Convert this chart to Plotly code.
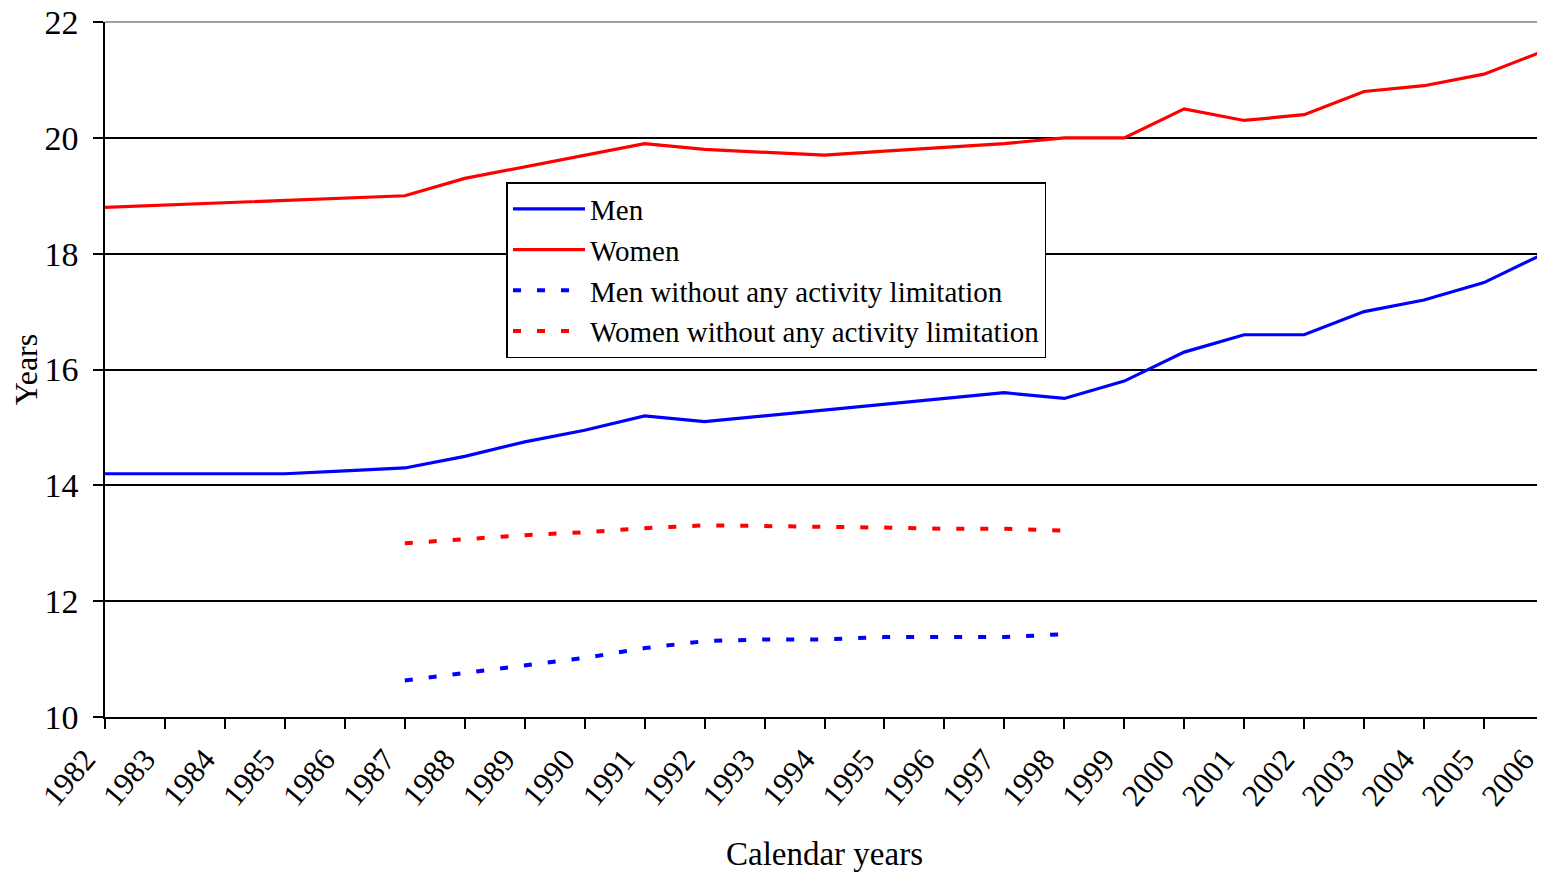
import plotly.graph_objects as go

years = list(range(1982, 2007))

men = [14.2, 14.2, 14.2, 14.2, 14.25, 14.3, 14.5, 14.75, 14.95, 15.2, 15.1, 15.2, 15.3,
       15.4, 15.5, 15.6, 15.5, 15.8, 16.3, 16.6, 16.6, 17.0, 17.2, 17.5, 18.0]
women = [18.8, 18.84, 18.88, 18.92, 18.96, 19.0, 19.3, 19.5, 19.7, 19.9, 19.8, 19.75, 19.7,
         19.77, 19.83, 19.9, 20.0, 20.0, 20.5, 20.3, 20.4, 20.8, 20.9, 21.1, 21.5]
men_no_limit = [None] * 5 + [10.63, 10.76, 10.89, 11.02, 11.19, 11.31, 11.34, 11.34,
                             11.38, 11.38, 11.38, 11.43] + [None] * 8
women_no_limit = [None] * 5 + [13.0, 13.07, 13.14, 13.19, 13.26, 13.31, 13.3, 13.28,
                               13.27, 13.25, 13.25, 13.22] + [None] * 8

FONT = "Times New Roman, Liberation Serif, serif"

fig = go.Figure()
fig.add_trace(go.Scatter(x=years, y=men, name="Men", mode="lines",
                         line=dict(color="#0000FF", width=3.2)))
fig.add_trace(go.Scatter(x=years, y=women, name="Women", mode="lines",
                         line=dict(color="#FF0000", width=3.2)))
fig.add_trace(go.Scatter(x=years, y=men_no_limit, name="Men without any activity limitation",
                         mode="lines", connectgaps=False,
                         line=dict(color="#0000FF", width=4, dash="8px,16px")))
fig.add_trace(go.Scatter(x=years, y=women_no_limit, name="Women without any activity limitation",
                         mode="lines", connectgaps=False,
                         line=dict(color="#FF0000", width=4, dash="8px,16px")))

# grey frame on top and right, like the original
fig.add_shape(type="line", xref="paper", yref="paper", x0=0, x1=1, y0=1, y1=1,
              line=dict(color="#808080", width=1.5), layer="between")
fig.add_shape(type="line", xref="paper", yref="paper", x0=1, x1=1, y0=0, y1=1,
              line=dict(color="#808080", width=1.5), layer="between")

# page body has an 8px margin, so the figure is 8px smaller each way
fig.update_layout(
    width=1537, height=864,
    margin=dict(l=97, r=1, t=14, b=155),
    paper_bgcolor="white", plot_bgcolor="white",
    font=dict(family=FONT, size=28, color="black"),
    showlegend=True,
    legend=dict(x=0.279, y=0.643, xanchor="left", yanchor="middle",
                bordercolor="black", borderwidth=1.5, bgcolor="white",
                font=dict(family=FONT, size=29), tracegroupgap=0,
                itemwidth=72),
    xaxis=dict(
        range=[1981.999, 2006.001], tickmode="array", tickvals=years,
        ticktext=[str(y) for y in years],
        tickangle=-50, showgrid=False, zeroline=False, automargin=False,
        showline=True, linecolor="black", linewidth=1.5,
        ticks="outside", ticklen=10, tickwidth=1.5, tickcolor="black",
        tickfont=dict(family=FONT, size=31), ticklabelshift=-20,
        ticklabeloverflow="allow",
        title=dict(text="Calendar years", font=dict(family=FONT, size=33), standoff=30),
    ),
    yaxis=dict(
        range=[10, 22], tickmode="linear", tick0=10, dtick=2,
        showgrid=True, gridcolor="black", gridwidth=1.5, zeroline=False, automargin=False,
        showline=True, linecolor="black", linewidth=1.5,
        ticks="outside", ticklen=10, tickwidth=1.5, tickcolor="black",
        tickfont=dict(family=FONT, size=34), ticklabelstandoff=8,
        ticklabeloverflow="allow",
        title=dict(text="Years", font=dict(family=FONT, size=32), standoff=0),
    ),
)

fig.write_html("out.html")
